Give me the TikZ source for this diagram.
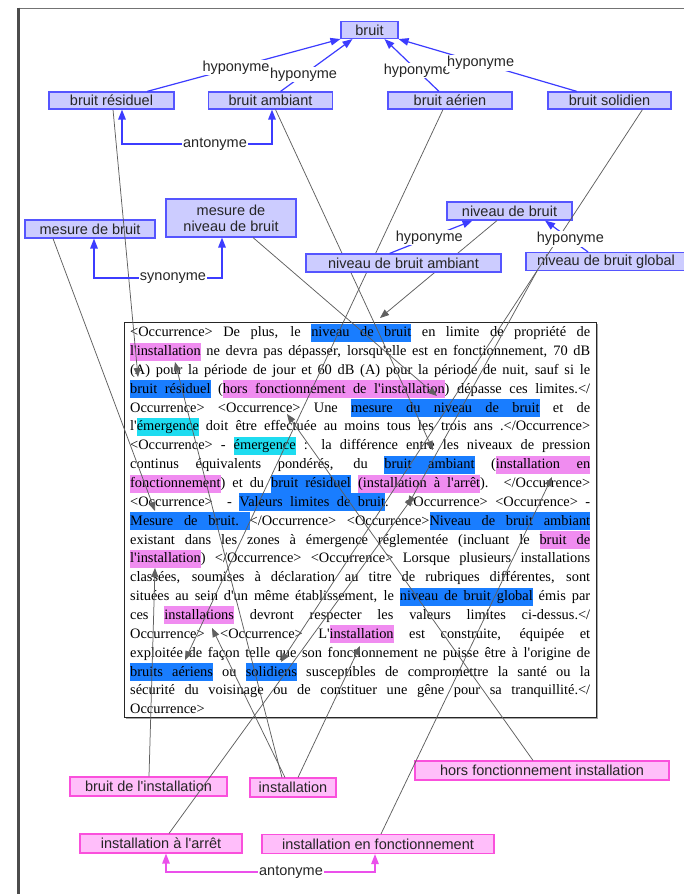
\documentclass[tikz,border=0pt]{standalone}
\usepackage{fontspec}
\newfontfamily\nodefont{Liberation Sans}
\newfontfamily\txtfont{Liberation Serif}
\usetikzlibrary{arrows.meta}
\definecolor{nfillb}{RGB}{204,204,255}
\definecolor{ndrawb}{RGB}{85,85,255}
\definecolor{nfillp}{RGB}{255,190,250}
\definecolor{ndrawp}{RGB}{250,80,220}
\definecolor{relblue}{RGB}{60,60,255}
\definecolor{relpink}{RGB}{235,80,235}
\definecolor{hlblue}{RGB}{25,125,255}
\definecolor{hlpink}{RGB}{240,140,240}
\definecolor{hlcyan}{RGB}{30,220,240}
\definecolor{glink}{RGB}{95,95,95}
\newcommand\hlstrut{\rule[-5pt]{0pt}{18pt}}
% stretchable coloured space inside a highlight
\def\hlspace#1{{\color{#1}\leaders\vrule height 13pt depth 5pt\hskip\fontdimen2\font plus\fontdimen3\font minus\fontdimen4\font}}
\def\hlwords#1#2{\hlwordsA{#1}#2 \relax}
\def\hlwordsA#1#2 #3\relax{\colorbox{#1}{\hlstrut#2}\ifx\relax#3\relax\else\hlspace{#1}\hlwordsA{#1}#3\relax\fi}
\newcommand\hlb[1]{\hlwords{hlblue}{#1}}
\newcommand\hlp[1]{\hlwords{hlpink}{#1}}
\newcommand\hlc[1]{\hlwords{hlcyan}{#1}}
\newcommand\tline[1]{\hbox to\hsize{\hlstrut#1}}
\tikzset{
  bnode/.style={draw=ndrawb, fill=nfillb, line width=1.1pt, inner sep=0pt, minimum height=17pt,
    font=\nodefont\fontsize{14.5}{16}\selectfont, text=black!85},
  pnode/.style={draw=ndrawp, fill=nfillp, line width=1.1pt, inner sep=0pt, minimum height=19pt,
    font=\nodefont\fontsize{14.5}{16}\selectfont, text=black!85},
  rellbl/.style={fill=white, inner sep=1pt, font=\nodefont\fontsize{14.5}{16}\selectfont, text=black!85},
  blink/.style={draw=relblue, line width=1.2pt, -{Triangle[length=10pt,width=7.5pt]}},
  plink/.style={draw=relpink, line width=1.2pt, -{Triangle[length=10pt,width=7.5pt]}},
  glinkst/.style={draw=glink, line width=0.75pt, -{Triangle[length=9pt,width=7pt]}},
}
\begin{document}
\begin{tikzpicture}[x=1pt,y=-1pt]
\useasboundingbox (0,0) rectangle (684,894);
% outer frame
\draw[line width=1pt, black!55] (19,8.5) -- (690,8.5);
\draw[line width=3pt, black!70] (18.5,7.5) -- (18.5,900);

% text box
\fill[black!35] (126,324) rectangle (598,719);
\node[draw=black!85, fill=white, line width=1.2pt, minimum width=472pt, minimum height=395pt, inner sep=0pt, anchor=north west] (box) at (124,322) {};
\node[anchor=north west, inner sep=0pt, font=\txtfont\fontsize{14.4}{18.85}\selectfont, text=black] (txt) at (130,323.5) {\vbox{\hsize=460pt \baselineskip=18.85pt \lineskip=0pt \lineskiplimit=-20pt \fboxsep=0pt
\tline{<Occurrence> De plus, le \hlb{niveau de bruit} en limite de propriété de}
\tline{\hlp{l'installation} ne devra pas dépasser, lorsqu'elle est en fonctionnement, 70 dB}
\tline{(A) pour la période de jour et 60 dB (A) pour la période de nuit, sauf si le}
\tline{\hlb{bruit résiduel} (\hlp{hors fonctionnement de l'installation}) dépasse ces limites.</}
\tline{Occurrence> <Occurrence> Une \hlb{mesure du niveau de bruit} et de}
\tline{l'\hlc{émergence} doit être effectuée au moins tous les trois ans .</Occurrence>}
\tline{<Occurrence> - \hlc{émergence} : la différence entre les niveaux de pression}
\tline{continus équivalents pondérés, du \hlb{bruit ambiant} (\hlp{installation en}}
\tline{\hlp{fonctionnement}) et du \hlb{bruit résiduel} \hlp{(installation à l'arrêt}). </Occurrence>}
\tline{<Occurrence>\quad - \hlb{Valeurs limites de bruit}. <Occurrence> <Occurrence> -}
\tline{\hlb{Mesure de bruit.}\hlspace{hlblue}</Occurrence> <Occurrence>\hlb{Niveau de bruit ambiant}}
\tline{existant dans les zones à émergence réglementée (incluant le \hlp{bruit de}}
\tline{\hlp{l'installation}) </Occurrence> <Occurrence> Lorsque plusieurs installations}
\tline{classées, soumises à déclaration au titre de rubriques différentes, sont}
\tline{situées au sein d'un même établissement, le \hlb{niveau de bruit global} émis par}
\tline{ces \hlp{installations} devront respecter les valeurs limites ci-dessus.</}
\tline{Occurrence> <Occurrence> L'\hlp{installation} est construite, équipée et}
\tline{exploitée de façon telle que son fonctionnement ne puisse être à l'origine de}
\tline{\hlb{bruits aériens} ou \hlb{solidiens} susceptibles de compromettre la santé ou la}
\tline{sécurité du voisinage ou de constituer une gêne pour sa tranquillité.</}
\tline{Occurrence>\hfil}
}};

% concept nodes (blue)
\node[bnode, minimum width=57pt] (bruit) at (369.5,30) {bruit};
\node[bnode, minimum width=125pt] (bres) at (111.5,100.5) {bruit résiduel};
\node[bnode, minimum width=124pt] (bamb) at (270.5,100.5) {bruit ambiant};
\node[bnode, minimum width=124pt] (baer) at (450,100.5) {bruit aérien};
\node[bnode, minimum width=123pt] (bsol) at (609.5,100.5) {bruit solidien};
\node[bnode, minimum width=130pt, minimum height=18pt] (mdb) at (90,229) {mesure de bruit};
\node[bnode, minimum width=130pt, minimum height=38pt, align=center] (mndb) at (231,218) {mesure de\\niveau de bruit};
\node[bnode, minimum width=125pt, minimum height=18pt] (ndb) at (509.5,211) {niveau de bruit};
\node[bnode, minimum width=160pt, minimum height=18pt] (ndbg) at (606,261.5) {niveau de bruit global};

% concept nodes (pink)
\node[pnode, minimum width=157pt] (bdi) at (148.5,786.5) {bruit de l'installation};
\node[pnode, minimum width=86pt] (inst) at (293,787.5) {installation};
\node[pnode, minimum width=254pt] (hfi) at (542,770.5) {hors fonctionnement installation};
\node[pnode, minimum width=162pt] (iaa) at (161,843.5) {installation à l'arrêt};
\node[pnode, minimum width=232pt] (ief) at (378,844) {installation en fonctionnement};

% targets in the text
\coordinate (t1) at (138,377);
\coordinate (t2) at (155,511);
\coordinate (t3) at (437,396);
\coordinate (t4) at (433,450);
\coordinate (t5) at (380,318);
\coordinate (t6) at (185,660);
\coordinate (t7) at (281,662);
\coordinate (t8) at (408,505);
\coordinate (t9) at (155,568);
\coordinate (t10a) at (360,646);
\coordinate (t10b) at (212,628);
\coordinate (t10c) at (175,362);
\coordinate (t11) at (287,414);
\coordinate (t12) at (552,477);
\coordinate (t13) at (413,497);

% gray occurrence links
\draw[glinkst] ([xshift=1.5pt]bres.south) -- (t1);
\draw[glinkst] ([xshift=-37pt]mdb.south) -- (t2);
\draw[glinkst] ([xshift=22pt]mndb.south) -- (t3);
\draw[glinkst] ([xshift=5pt]bamb.south) -- (t4);
\draw[glinkst] ([xshift=-12.5pt]ndb.south) -- (t5);
\draw[glinkst] ([xshift=-7pt]baer.south) -- (t6);
\draw[glinkst] ([xshift=33pt]bsol.south) -- (t7);
\draw[glinkst] ([xshift=-69pt]ndbg.south) -- (t8);
\draw[glinkst] ([xshift=0.5pt]bdi.north) -- (t9);
\draw[glinkst] ([xshift=5pt]inst.north) -- (t10a);
\draw[glinkst] ([xshift=-8pt]inst.north) -- (t10b);
\draw[glinkst] ([xshift=-11pt]inst.north) -- (t10c);
\draw[glinkst] ([xshift=-9pt]hfi.north) -- (t11);
\draw[glinkst] ([xshift=3pt]ief.north) -- (t12);
\draw[glinkst] ([xshift=8pt]iaa.north) -- (t13);

% node drawn over the gray line passing behind it
\node[bnode, minimum width=195pt, minimum height=18pt] (ndba) at (403.5,263) {niveau de bruit ambiant};

% hyponyme relations
\draw[blink] ([xshift=35.5pt]bres.north) -- node[rellbl, pos=0.46] (h1) {hyponyme} (bruit.south west);
\draw[blink] ([xshift=10pt]bamb.north) -- node[rellbl, pos=0.32] (h2) {hyponyme} ([xshift=-17pt]bruit.south);
\draw[blink] ([xshift=-11pt]baer.north) -- node[rellbl, pos=0.40] (h3) {hyponyme} ([xshift=15pt]bruit.south);
\draw[blink] ([xshift=-32.5pt]bsol.north) -- node[rellbl, pos=0.54] (h4) {hyponyme} (bruit.south east);

\draw[blink] ([xshift=-14pt]ndba.north) -- node[rellbl, pos=0.48] (h5) {hyponyme} ([xshift=-37pt]ndb.south);
\draw[blink] ([xshift=-18pt]ndbg.north) -- node[rellbl, pos=0.41] (h6) {hyponyme} ([xshift=35.5pt]ndb.south);

% antonyme (top)
\node[rellbl] (antA) at (215,144) {antonyme};
\draw[blink] (antA.west) -| ([xshift=10.5pt]bres.south);
\draw[blink] (antA.east) -| ([xshift=1.5pt]bamb.south);

% synonyme
\node[rellbl] (syn) at (173,278) {synonyme};
\draw[blink] (syn.west) -| ([xshift=4pt]mdb.south);
\draw[blink] (syn.east) -| ([xshift=-9pt]mndb.south);

% antonyme (bottom)
\node[rellbl] (antB) at (291,872) {antonyme};
\draw[plink] (antB.west) -| ([xshift=5pt]iaa.south);
\draw[plink] (antB.east) -| ([xshift=-3pt]ief.south);
\end{tikzpicture}
\end{document}
